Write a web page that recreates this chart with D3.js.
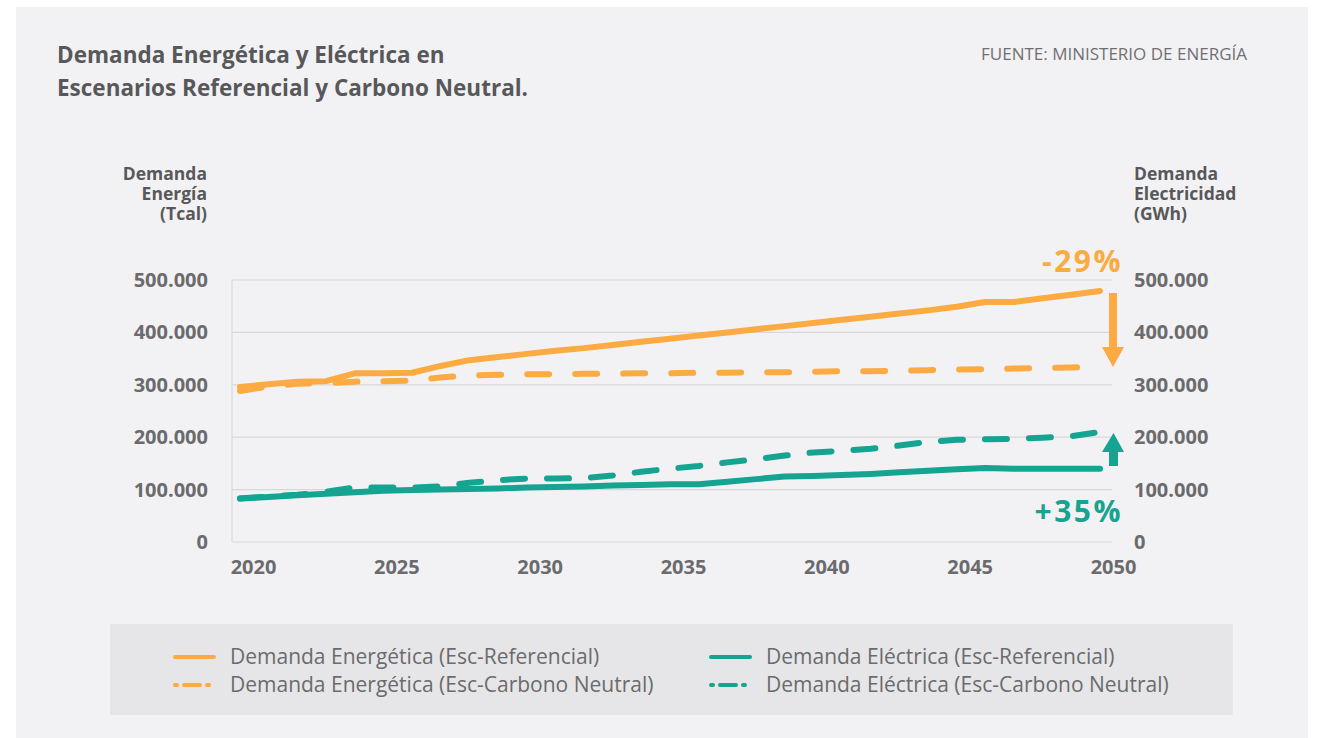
<!DOCTYPE html>
<html>
<head>
<meta charset="utf-8">
<script src="https://cdn.jsdelivr.net/npm/d3@7"></script>
<style>
  body { margin: 0; background: #ffffff; }
  svg { display: block; }
  text { font-family: "Open Sans", Lato, sans-serif; }
</style>
</head>
<body>
<div class="c_chart"></div>
<script>
/* DATA
------------------------------------------------------ */
const years = d3.range(2020, 2051);
const xTicks = [2020, 2025, 2030, 2035, 2040, 2045, 2050];
const yTicks = [0, 100000, 200000, 300000, 400000, 500000];

// miles de Tcal
const energiaRef = [296, 301, 306, 307, 322, 322, 323, 336, 347, 353, 359, 365, 370, 376, 382, 388,
  394, 400, 406, 412, 418, 424, 430, 436, 442, 449, 458, 458, 465, 472, 479];
const energiaCN = [288, 297, 302, 303, 306, 307, 308, 314, 318, 319, 320, 320, 321, 321, 322, 322,
  323, 323, 324, 324, 325, 326, 326, 327, 328, 329, 330, 331, 332, 333, 335];
// miles de GWh
const electricaRef = [83, 86, 89, 92, 95, 98, 99, 100, 101, 102, 104, 105, 106, 108, 109, 110,
  110, 115, 120, 125, 126, 128, 130, 133, 136, 139, 141, 140, 140, 140, 140];
const electricaCN = [83, 87, 90, 96, 104, 104, 104, 106, 113, 118, 121, 121, 122, 127, 134, 140,
  145, 152, 158, 165, 171, 174, 178, 184, 191, 195, 196, 197, 199, 202, 210];

const seriesNames = [
  "Demanda Energética (Esc-Referencial)",
  "Demanda Energética (Esc-Carbono Neutral)",
  "Demanda Eléctrica (Esc-Referencial)",
  "Demanda Eléctrica (Esc-Carbono Neutral)"
];

const orange = "#fbab41";
const teal = "#15a392";

/* SVG
------------------------------------------------------ */
const width = 1324;
const height = 738;

const svg = d3.select(".c_chart")
  .append("svg")
  .attr("width", width)
  .attr("height", height);

svg.append("rect")
  .attr("x", 16).attr("y", 7)
  .attr("width", 1292).attr("height", 731)
  .attr("fill", "#f2f2f4");

/* SCALES
------------------------------------------------------ */
const x = d3.scaleLinear().domain([2020, 2050]).range([240, 1100]);
const yL = d3.scaleLinear().domain([0, 500000]).range([542, 280]);
const yR = d3.scaleLinear().domain([0, 500000]).range([542, 280]);

const fmt = d3.formatLocale({ decimal: ",", thousands: ".", grouping: [3] }).format(",");

/* GRID + AXES
------------------------------------------------------ */
svg.append("g")
  .selectAll("line")
  .data(yTicks)
  .join("line")
  .attr("x1", 232).attr("x2", 1112)
  .attr("y1", d => yL(d)).attr("y2", d => yL(d))
  .attr("stroke", "#d8d8da").attr("stroke-width", 1.2);

svg.append("line")
  .attr("x1", 232).attr("x2", 232)
  .attr("y1", yL(500000)).attr("y2", yL(0))
  .attr("stroke", "#d8d8da").attr("stroke-width", 1.2);

function styleTicks(g) {
  g.select(".domain").remove();
  g.selectAll("text")
    .attr("font-size", 20).attr("font-weight", 700).attr("fill", "#6b6b6d")
    .style("font-family", "'Open Sans', sans-serif");
}

svg.append("g")
  .attr("transform", "translate(208,0)")
  .call(d3.axisLeft(yL).tickValues(yTicks).tickFormat(fmt).tickSize(0).tickPadding(0))
  .call(styleTicks);

svg.append("g")
  .attr("transform", "translate(1134,0)")
  .call(d3.axisRight(yR).tickValues(yTicks).tickFormat(fmt).tickSize(0).tickPadding(0))
  .call(styleTicks);

svg.append("g")
  .attr("transform", "translate(13,560)")
  .call(d3.axisBottom(x).tickValues(xTicks).tickFormat(d3.format("d")).tickSize(0).tickPadding(0))
  .call(styleTicks);

/* LINES
------------------------------------------------------ */
const lineL = d3.line().x((d, i) => x(years[i])).y(d => yL(d * 1000));
const lineR = d3.line().x((d, i) => x(years[i])).y(d => yR(d * 1000));

const lines = [
  { data: energiaCN, gen: lineL, color: orange, dash: "22,26" },
  { data: electricaCN, gen: lineR, color: teal, dash: "22,22" },
  { data: energiaRef, gen: lineL, color: orange, dash: null },
  { data: electricaRef, gen: lineR, color: teal, dash: null }
];

svg.append("g")
  .selectAll("path")
  .data(lines)
  .join("path")
  .attr("d", d => d.gen(d.data))
  .attr("fill", "none")
  .attr("stroke", d => d.color)
  .attr("stroke-width", 6)
  .attr("stroke-linecap", "round")
  .attr("stroke-linejoin", "round")
  .attr("stroke-dasharray", d => d.dash);

/* ARROWS + PERCENTS
------------------------------------------------------ */
svg.append("path")
  .attr("d", "M1109,293 L1117,293 L1117,347 L1124,347 L1113,367 L1102,347 L1109,347 Z")
  .attr("fill", orange);
svg.append("path")
  .attr("d", "M1109,466 L1118,466 L1118,452 L1124,452 L1113.5,433 L1102,452 L1109,452 Z")
  .attr("fill", teal);

svg.append("text")
  .attr("x", 1123).attr("y", 272)
  .attr("text-anchor", "end")
  .attr("font-size", 30).attr("font-weight", 700).attr("fill", orange)
  .attr("letter-spacing", 2.5)
  .text("-29%");
svg.append("text")
  .attr("x", 1123).attr("y", 522)
  .attr("text-anchor", "end")
  .attr("font-size", 30).attr("font-weight", 700).attr("fill", teal)
  .attr("letter-spacing", 2.5)
  .text("+35%");

/* TITLES
------------------------------------------------------ */
const title = svg.append("text")
  .attr("x", 57).attr("y", 63)
  .attr("font-size", 22.5).attr("font-weight", 700).attr("fill", "#58585a");
title.append("tspan").attr("x", 57).text("Demanda Energética y Eléctrica en");
title.append("tspan").attr("x", 57).attr("dy", 33).text("Escenarios Referencial y Carbono Neutral.");

svg.append("text")
  .attr("x", 1247).attr("y", 60)
  .attr("text-anchor", "end")
  .attr("font-size", 17).attr("fill", "#707072")
  .text("FUENTE: MINISTERIO DE ENERGÍA");

const tL = svg.append("text")
  .attr("y", 180).attr("text-anchor", "end")
  .attr("font-size", 17.5).attr("font-weight", 700).attr("fill", "#58585a");
["Demanda", "Energía", "(Tcal)"].forEach((s, i) =>
  tL.append("tspan").attr("x", 207).attr("dy", i ? 20 : 0).text(s));

const tR = svg.append("text")
  .attr("y", 180).attr("text-anchor", "start")
  .attr("font-size", 17.5).attr("font-weight", 700).attr("fill", "#58585a");
["Demanda", "Electricidad", "(GWh)"].forEach((s, i) =>
  tR.append("tspan").attr("x", 1134).attr("dy", i ? 20 : 0).text(s));

/* LEGEND
------------------------------------------------------ */
svg.append("rect")
  .attr("x", 110).attr("y", 624)
  .attr("width", 1123).attr("height", 91)
  .attr("fill", "#e6e6e8");

const legendItems = [
  { name: seriesNames[0], color: orange, dash: null, lx: 175, ly: 657 },
  { name: seriesNames[1], color: orange, dash: "2,7,16,7", lx: 175, ly: 685 },
  { name: seriesNames[2], color: teal, dash: null, lx: 711, ly: 657 },
  { name: seriesNames[3], color: teal, dash: "2,7,16,7", lx: 711, ly: 685 }
];

const lg = svg.append("g")
  .selectAll("g")
  .data(legendItems)
  .join("g");

lg.append("line")
  .attr("x1", d => d.lx).attr("x2", d => d.lx + 39)
  .attr("y1", d => d.ly).attr("y2", d => d.ly)
  .attr("stroke", d => d.color).attr("stroke-width", 4)
  .attr("stroke-linecap", "round")
  .attr("stroke-dasharray", d => d.dash);

lg.append("text")
  .attr("x", d => d.lx + 55).attr("y", d => d.ly + 7)
  .attr("font-size", 21).attr("fill", "#6b6b6d")
  .text(d => d.name);
</script>
</body>
</html>
